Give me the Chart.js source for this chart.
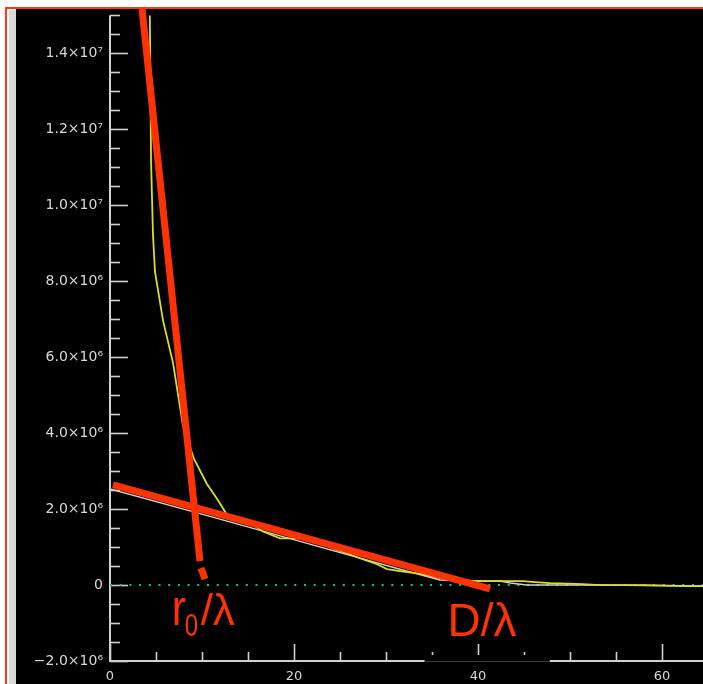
<!DOCTYPE html>
<html>
<head>
<meta charset="utf-8">
<script src="https://cdn.jsdelivr.net/npm/chart.js@4.4.1/dist/chart.umd.min.js"></script>
<style>
  html, body { margin: 0; padding: 0; background: #ffffff; }
  #wrap { width: 703px; height: 684px; }
</style>
</head>
<body>
<div id="wrap"><canvas id="c" width="703" height="684"></canvas></div>
<script>
// ---- data ----
const xTickValues = [0, 20, 40, 60];
const xTickLabels = ["0", "20", "40", "60"];
const yTickValues = [-2e6, 0, 2e6, 4e6, 6e6, 8e6, 1e7, 1.2e7, 1.4e7];
const yTickLabels = ["\u22122.0\u00d710\u2076", "0", "2.0\u00d710\u2076", "4.0\u00d710\u2076", "6.0\u00d710\u2076",
                     "8.0\u00d710\u2076", "1.0\u00d710\u2077", "1.2\u00d710\u2077", "1.4\u00d710\u2077"];

// yellow structure-function curve
const curveX = [4.30, 4.46, 4.67, 4.89, 5.76, 6.85, 7.93, 9.13, 10.54, 11.63, 12.72, 14.2, 15.54, 16.63, 18.48,
                19.89, 20.98, 22.83, 24.24, 25.76, 27.17, 29.02, 30.11, 31.52, 34.02, 35.5, 36.96, 40.54,
                44.89, 46.2, 47.83, 51.41, 53.26, 58.0, 63.37, 64.5];
const curveY = [1.6e7, 1.12e7, 9.24e6, 8.25e6, 6.97e6, 5.85e6, 4.20e6, 3.32e6, 2.66e6, 2.27e6, 1.85e6, 1.68e6, 1.59e6,
                1.41e6, 1.23e6, 1.23e6, 1.23e6, 1.10e6, 9.66e5, 8.36e5, 7.05e5, 5.48e5, 4.18e5, 3.66e5, 2.87e5,
                2.0e5, 1.31e5, 1.04e5, 1.04e5, 7.8e4, 5.2e4, 2.6e4, 0, 0, -2.6e4, -2.6e4];

// white companion curve
const whiteX = [0, 9.78, 20.65, 31.52, 35.87, 40.2, 42.4, 43.5, 45.3, 53.3, 63.4, 64.5];
const whiteY = [2.53e6, 1.88e6, 1.15e6, 4.18e5, 1.31e5, 1.04e5, 1.04e5, 5.2e4, 0, 0, -2.6e4, -2.6e4];

// red hand-drawn asymptote lines
const steepX = [3.48, 9.78, 9.84, 9.89, 10.33];
const steepY = [1.517e7, 6.27e5, null, 4.5e5, 1.6e5];
const shallowX = [0.33, 41.3];
const shallowY = [2.64e6, -1.0e5];

// zero reference line
const zeroX = [0, 64.5];
const zeroY = [0, 0];

const annotations = [
  { main: "r", sub: "0", rest: "/\u03bb", x: 6.7, y: -1.05e6 },
  { main: "D/\u03bb", sub: "", rest: "", x: 36.7, y: -1.33e6 }
];

// ---- helpers ----
const pts = (xs, ys) => xs.map((x, i) => ({ x: x, y: ys[i] }));

const frame = {
  id: 'frame',
  beforeDraw(chart) {
    const ctx = chart.ctx;
    ctx.save();
    ctx.fillStyle = '#ffffff';
    ctx.fillRect(0, 0, 703, 684);
    ctx.fillStyle = '#ff3a10';
    ctx.fillRect(5, 7, 698, 2);
    ctx.fillRect(5, 7, 2, 677);
    ctx.fillStyle = '#d9d9d9';
    ctx.fillRect(9, 10, 7, 674);
    ctx.fillStyle = '#000000';
    ctx.fillRect(16, 9, 687, 675);
    ctx.restore();
  },
  beforeDatasetsDraw(chart) {
    const ctx = chart.ctx;
    const xs = chart.scales.x, ys = chart.scales.y;
    const a = chart.chartArea;
    ctx.save();
    ctx.strokeStyle = '#d0d0d0';
    ctx.lineWidth = 2;
    ctx.beginPath();
    ctx.moveTo(a.left, a.top);
    ctx.lineTo(a.left, a.bottom);
    ctx.lineTo(a.right, a.bottom);
    ctx.stroke();
    ctx.lineWidth = 1.6;
    // y ticks
    for (let v = -2e6; v <= 1.5e7 + 1; v += 5e5) {
      const py = Math.round(ys.getPixelForValue(v)) + 0.5;
      const major = Math.abs(v / 2e6 - Math.round(v / 2e6)) < 1e-6;
      ctx.beginPath();
      ctx.moveTo(a.left, py);
      ctx.lineTo(a.left + (major ? 18 : 10), py);
      ctx.stroke();
    }
    // x ticks
    for (let v = 0; v <= 64; v += 5) {
      const px = Math.round(xs.getPixelForValue(v)) + 0.5;
      const major = v % 20 === 0;
      ctx.beginPath();
      ctx.moveTo(px, a.bottom);
      ctx.lineTo(px, a.bottom - (major ? 17 : 9));
      ctx.stroke();
    }
    // dark patch on the axis
    const g0 = xs.getPixelForValue(34.2), g1 = xs.getPixelForValue(47.8);
    ctx.fillStyle = '#000000';
    ctx.fillRect(g0, a.bottom - 6, g1 - g0, 8);
    ctx.strokeStyle = '#3a3a3a';
    ctx.lineWidth = 1;
    ctx.beginPath();
    ctx.moveTo(g0, a.bottom + 0.5);
    ctx.lineTo(g1, a.bottom + 0.5);
    ctx.stroke();
    ctx.restore();
  },
  afterDatasetsDraw(chart) {
    const ctx = chart.ctx;
    const xs = chart.scales.x, ys = chart.scales.y;
    ctx.save();
    ctx.fillStyle = '#ff3300';
    ctx.textBaseline = 'alphabetic';
    annotations.forEach(an => {
      let px = xs.getPixelForValue(an.x);
      const py = ys.getPixelForValue(an.y);
      if (an.sub) {
        ctx.font = '50px "Liberation Sans"';
        ctx.save();
        ctx.translate(px, py);
        ctx.scale(0.85, 1);
        ctx.fillText(an.main, 0, 0);
        const w = ctx.measureText(an.main).width;
        ctx.font = '32px "Liberation Sans"';
        ctx.scale(0.75 / 0.85, 1);
        ctx.fillText(an.sub, (w * 0.85 - 1) / 0.75, 11);
        ctx.restore();
        ctx.font = '44px "Liberation Sans"';
        ctx.fillText(an.rest, px + 29, py);
      } else {
        ctx.font = '46px "Liberation Sans"';
        ctx.fillText(an.main, px, py);
      }
    });
    ctx.restore();
  }
};

new Chart(document.getElementById('c'), {
  type: 'scatter',
  data: {
    datasets: [
      { data: pts(steepX, steepY), showLine: true, spanGaps: false, borderColor: '#ff3300', borderWidth: 7,
        pointRadius: 0, clip: false },
      { data: pts(shallowX, shallowY), showLine: true, borderColor: '#ff3300', borderWidth: 7,
        pointRadius: 0, clip: false },
      { data: pts(curveX, curveY), showLine: true, borderColor: '#dcdc2c', borderWidth: 1.8, pointRadius: 0 },
      { data: pts(whiteX, whiteY), showLine: true, borderColor: '#cfcfcf', borderWidth: 1.5, pointRadius: 0 },
      { data: pts(zeroX, zeroY), showLine: true, borderColor: '#00c896', borderWidth: 2, borderDash: [2, 7.7],
        pointRadius: 0 }
    ]
  },
  options: {
    responsive: false,
    devicePixelRatio: 1,
    animation: false,
    events: [],
    layout: { padding: { top: 12, right: 0, bottom: 0, left: 0 } },
    plugins: { legend: { display: false }, tooltip: { enabled: false } },
    elements: { line: { tension: 0, borderCapStyle: 'butt' } },
    scales: {
      x: {
        type: 'linear', min: 0, max: 64.46,
        grid: { display: false, drawTicks: false },
        border: { display: false },
        afterFit: s => { s.height = 23; },
        afterBuildTicks: s => { s.ticks = xTickValues.map(v => ({ value: v })); },
        ticks: {
          color: '#d8d8d8', font: { family: 'DejaVu Sans', size: 13 }, padding: 8, maxRotation: 0,
          autoSkip: false,
          callback: v => { const i = xTickValues.indexOf(v); return i >= 0 ? xTickLabels[i] : ''; }
        }
      },
      y: {
        type: 'linear', min: -2e6, max: 1.5e7,
        grid: { display: false, drawTicks: false },
        border: { display: false },
        afterFit: s => { s.width = 110; },
        afterBuildTicks: s => { s.ticks = yTickValues.map(v => ({ value: v })); },
        ticks: {
          color: '#d8d8d8', font: { family: 'DejaVu Sans', size: 14 }, padding: 7, autoSkip: false,
          callback: v => { const i = yTickValues.indexOf(v); return i >= 0 ? yTickLabels[i] : ''; }
        }
      }
    }
  },
  plugins: [frame]
});
</script>
</body>
</html>
